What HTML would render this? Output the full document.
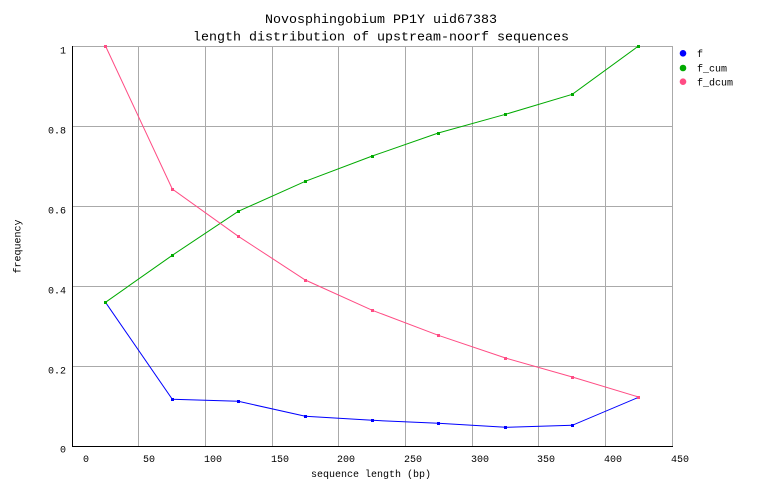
<!DOCTYPE html>
<html><head><meta charset="utf-8"><style>
html,body{margin:0;padding:0;background:#fff;}
svg{display:block;}
text{font-family:"Liberation Mono","DejaVu Sans Mono",monospace;fill:#000;}
</style></head><body>
<svg width="762" height="498" viewBox="0 0 762 498" xmlns="http://www.w3.org/2000/svg">
<rect width="762" height="498" fill="#fff"/>
<text x="381" y="23" font-size="13.33" text-anchor="middle">Novosphingobium PP1Y uid67383</text>
<text x="381" y="40.5" font-size="13.33" text-anchor="middle">length distribution of upstream-noorf sequences</text>
<g stroke="#aaaaaa" stroke-width="1" shape-rendering="crispEdges">
<line x1="72" y1="46.5" x2="673" y2="46.5"/>
<line x1="72" y1="126.5" x2="673" y2="126.5"/>
<line x1="72" y1="206.5" x2="673" y2="206.5"/>
<line x1="72" y1="286.5" x2="673" y2="286.5"/>
<line x1="72" y1="366.5" x2="673" y2="366.5"/>
<line x1="138.5" y1="46" x2="138.5" y2="446"/>
<line x1="205.5" y1="46" x2="205.5" y2="446"/>
<line x1="272.5" y1="46" x2="272.5" y2="446"/>
<line x1="338.5" y1="46" x2="338.5" y2="446"/>
<line x1="405.5" y1="46" x2="405.5" y2="446"/>
<line x1="472.5" y1="46" x2="472.5" y2="446"/>
<line x1="538.5" y1="46" x2="538.5" y2="446"/>
<line x1="605.5" y1="46" x2="605.5" y2="446"/>
<line x1="672.5" y1="46" x2="672.5" y2="446"/>
</g>
<g stroke="#000" stroke-width="1" shape-rendering="crispEdges">
<line x1="72.5" y1="46" x2="72.5" y2="447"/>
<line x1="72" y1="446.5" x2="673" y2="446.5"/>
</g>
<g font-size="10" text-anchor="end">
<text x="66" y="53.5">1</text>
<text x="66" y="133.5">0.8</text>
<text x="66" y="213.5">0.6</text>
<text x="66" y="293.5">0.4</text>
<text x="66" y="373.5">0.2</text>
<text x="66" y="452.5">0</text>
</g>
<g font-size="10" text-anchor="middle">
<text x="86" y="462">0</text>
<text x="149" y="462">50</text>
<text x="213" y="462">100</text>
<text x="280" y="462">150</text>
<text x="346" y="462">200</text>
<text x="413" y="462">250</text>
<text x="480" y="462">300</text>
<text x="546" y="462">350</text>
<text x="613" y="462">400</text>
<text x="680" y="462">450</text>
<text x="371" y="477">sequence length (bp)</text>
</g>
<text font-size="10" text-anchor="middle" transform="translate(20.5,246.5) rotate(-90)">frequency</text>
<g fill="none" stroke-width="1">
<polyline stroke="#0000ff" points="105.5,302.3 172.3,399.3 238.3,401.3 305.3,416.3 372.3,420.3 438.3,423.3 505.5,427.3 572.3,425.3 638.5,397.3"/>
<polyline stroke="#00aa00" points="105.5,302.3 172.3,255.3 238.3,211.3 305.3,181.3 372.3,156 438.3,133 505.5,114.3 572.3,94.3 638.5,46"/>
<polyline stroke="#ff4c84" points="105.5,46 172.3,189 238.3,236.3 305.3,280 372.3,310.3 438.3,335.3 505.5,358 572.3,377 638.5,397"/>
</g>
<g fill="#0000ff">
<rect x="104" y="301" width="3" height="3"/><rect x="171" y="398" width="3" height="3"/><rect x="237" y="400" width="3" height="3"/><rect x="304" y="415" width="3" height="3"/><rect x="371" y="419" width="3" height="3"/><rect x="437" y="422" width="3" height="3"/><rect x="504" y="426" width="3" height="3"/><rect x="571" y="424" width="3" height="3"/><rect x="637" y="396" width="3" height="3"/>
</g>
<g fill="#00aa00">
<rect x="104" y="301" width="3" height="3"/><rect x="171" y="254" width="3" height="3"/><rect x="237" y="210" width="3" height="3"/><rect x="304" y="180" width="3" height="3"/><rect x="371" y="155" width="3" height="3"/><rect x="437" y="132" width="3" height="3"/><rect x="504" y="113" width="3" height="3"/><rect x="571" y="93" width="3" height="3"/><rect x="637" y="45" width="3" height="3"/>
</g>
<g fill="#ff4c84">
<rect x="104" y="45" width="3" height="3"/><rect x="171" y="188" width="3" height="3"/><rect x="237" y="235" width="3" height="3"/><rect x="304" y="279" width="3" height="3"/><rect x="371" y="309" width="3" height="3"/><rect x="437" y="334" width="3" height="3"/><rect x="504" y="357" width="3" height="3"/><rect x="571" y="376" width="3" height="3"/><rect x="637" y="396" width="3" height="3"/>
</g>
<circle cx="683" cy="53.3" r="3.3" fill="#0000ff"/>
<circle cx="683" cy="68" r="3.3" fill="#00aa00"/>
<circle cx="683" cy="81.7" r="3.3" fill="#ff4c84"/>
<g font-size="10">
<text x="697" y="57">f</text>
<text x="697" y="71.5">f_cum</text>
<text x="697" y="85.5">f_dcum</text>
</g>
</svg>
</body></html>
